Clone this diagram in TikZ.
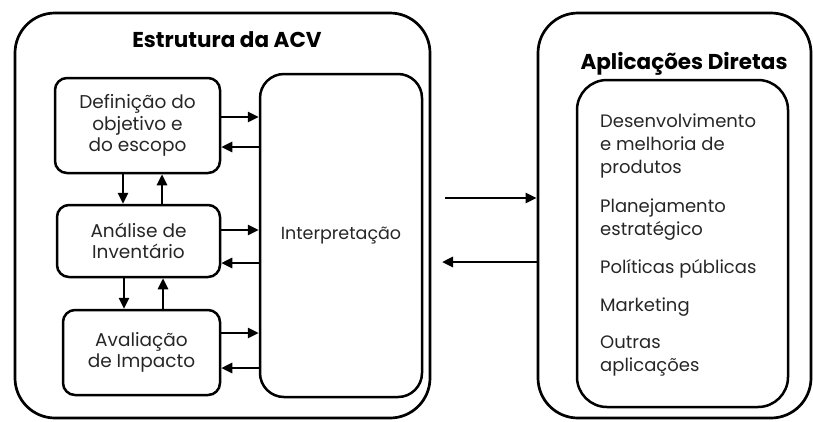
\documentclass[tikz,border=0pt]{standalone}
\usepackage{fontspec}
\setmainfont{Poppins}
\usetikzlibrary{arrows.meta}
\tikzset{
  big/.style={draw=black, line width=2.7pt, rounded corners=40pt},
  stage/.style={draw=black, line width=2.5pt, rounded corners=12pt, align=center, inner sep=0pt,
     font=\fontsize{18.5}{21.5}\selectfont, text=black!85},
  arr/.style={line width=2.6pt, -{Triangle[length=11pt,width=10pt]}},
  item/.style={anchor=base west, align=left, inner sep=0pt, font=\fontsize{18}{23}\selectfont, text=black!85},
  ttl/.style={font=\fontsize{21.5}{24}\selectfont\bfseries, inner sep=0pt}
}
\begin{document}
\begin{tikzpicture}[x=1pt,y=-1pt]
\useasboundingbox (0,0) rectangle (813,421);
% outer boxes
\node[big, minimum width=415pt, minimum height=405pt, inner sep=0pt] (left) at (222.5,215.5) {};
\node[big, minimum width=273pt, minimum height=405pt, inner sep=0pt] (right) at (674.5,215.5) {};
\node[ttl] (t1) at (227,40) {Estrutura da ACV};
\node[ttl] (t2) at (684,64) {Aplicações Diretas};
% stages
\node[stage, minimum width=165pt, minimum height=95pt] (def) at (137.5,125.5) {Definição do\\objetivo e\\do escopo};
\node[stage, minimum width=163pt, minimum height=72pt] (ana) at (138.5,241) {Análise de\\Inventário};
\node[stage, minimum width=157pt, minimum height=85pt] (ava) at (141.5,352.5) {Avaliação\\de Impacto};
\node[stage, rounded corners=24pt, minimum width=162pt, minimum height=323pt, font=\fontsize{17.5}{21}\selectfont] (int) at (341,235.5) {Interpretação};
% horizontal arrows
\draw[arr] (def.east |- 0,117) -- (int.west |- 0,117);
\draw[arr] (int.west |- 0,147) -- (def.east |- 0,147);
\draw[arr] (ana.east |- 0,230) -- (int.west |- 0,230);
\draw[arr] (int.west |- 0,263) -- (ana.east |- 0,263);
\draw[arr] (ava.east |- 0,333) -- (int.west |- 0,333);
\draw[arr] (int.west |- 0,368) -- (ava.east |- 0,368);
% vertical arrows
\draw[arr] (def.south -| 123,0) -- (ana.north -| 123,0);
\draw[arr] (ana.north -| 162,0) -- (def.south -| 162,0);
\draw[arr] (ana.south -| 124,0) -- (ava.north -| 124,0);
\draw[arr] (ava.north -| 163,0) -- (ana.south -| 163,0);
% right part
\node[big, rounded corners=30pt, line width=2.5pt, minimum width=211pt, minimum height=327pt, inner sep=0pt] (apps) at (682.5,243.5) {};
\coordinate (lend) at (445,198);
\coordinate (lend2) at (442,262);
\draw[arr] (lend) -- (right.west |- lend);
\draw[arr] (right.west |- lend2) -- (lend2);
\node[item] (i1) at (600,173) {Desenvolvimento\\e melhoria de\\produtos};
\node[item] (i2) at (600,235) {Planejamento\\estratégico};
\node[item] (i3) at (600,273) {Políticas públicas};
\node[item] (i4) at (600,311) {Marketing};
\node[item] (i5) at (600,371) {Outras\\aplicações};
\end{tikzpicture}
\end{document}
